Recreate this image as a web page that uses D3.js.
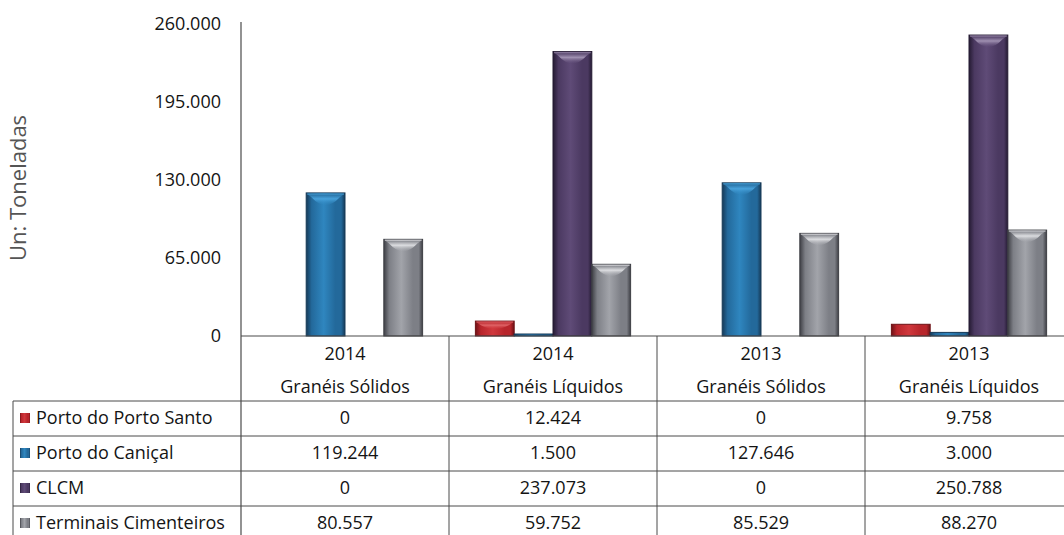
<!DOCTYPE html>
<html>
<head>
<meta charset="utf-8">
<script src="https://cdn.jsdelivr.net/npm/d3@7"></script>
<style>
  html, body { margin: 0; padding: 0; background: #fff; }
  svg { display: block; font-family: "Open Sans", sans-serif; }
</style>
</head>
<body>
<svg id="chart" width="1064" height="535"></svg>
<script>
// Movimento de granéis por terminal (toneladas)
const years = ["2014", "2014", "2013", "2013"];
const cargoTypes = ["Granéis Sólidos", "Granéis Líquidos", "Granéis Sólidos", "Granéis Líquidos"];
const seriesNames = ["Porto do Porto Santo", "Porto do Caniçal", "CLCM", "Terminais Cimenteiros"];
const portoSanto = [0, 12424, 0, 9758];
const canical = [119244, 1500, 127646, 3000];
const clcm = [0, 237073, 0, 250788];
const cimenteiros = [80557, 59752, 85529, 88270];
const yTicks = [0, 65000, 130000, 195000, 260000];

const seriesValues = [portoSanto, canical, clcm, cimenteiros];
const categoryIds = years.map((y, i) => i);

// Bevel palette per series: edge, body, highlight, cap
const palette = [
  { edge: "#6e1216", body: "#b8252b", light: "#d0383d", cap: "#e2686b" },
  { edge: "#163a58", body: "#23699b", light: "#2f86bf", cap: "#4aa6e0" },
  { edge: "#251b33", body: "#4b3961", light: "#5f4b77", cap: "#a798b8" },
  { edge: "#3e3f45", body: "#7d7f86", light: "#a2a4aa", cap: "#e4e5e8" }
];

const ptFormat = d3.formatLocale({ decimal: ",", thousands: ".", grouping: [3], currency: ["", " €"] }).format(",d");

const svg = d3.select("#chart");
const W = 1064, H = 535;
const plotLeft = 241, plotRight = 1073;
const baseY = 336, topY = 24;
const textColor = "#141414";
const fontSize = 18;

const x0 = d3.scaleBand().domain(categoryIds).range([plotLeft, plotRight]).padding(0);
const x1 = d3.scaleBand().domain(d3.range(seriesNames.length))
  .range([0, x0.bandwidth()]).paddingInner(0).paddingOuter(0.68);
const y = d3.scaleLinear().domain([0, 260000]).range([baseY, topY]);

// Gradients
const defs = svg.append("defs");
palette.forEach((p, i) => {
  const g = defs.append("linearGradient").attr("id", "body" + i)
    .attr("x1", "0%").attr("x2", "100%").attr("y1", "0%").attr("y2", "0%");
  [[0, p.edge], [0.14, p.body], [0.45, p.light], [0.75, p.body], [0.9, p.body], [1, p.edge]]
    .forEach(([o, c]) => g.append("stop").attr("offset", o).attr("stop-color", c));
  const c = defs.append("linearGradient").attr("id", "cap" + i)
    .attr("x1", "0%").attr("x2", "0%").attr("y1", "0%").attr("y2", "100%");
  c.append("stop").attr("offset", 0).attr("stop-color", p.body);
  c.append("stop").attr("offset", 0.45).attr("stop-color", p.cap);
  c.append("stop").attr("offset", 1).attr("stop-color", p.light).attr("stop-opacity", 0.2);
});

// Y axis title
svg.append("text")
  .attr("transform", `translate(26,188) rotate(-90)`)
  .attr("text-anchor", "middle")
  .attr("font-size", 22)
  .attr("fill", "#555")
  .text("Un: Toneladas");

// Y axis
const yAxis = d3.axisLeft(y).tickValues(yTicks).tickFormat(ptFormat).tickSize(0).tickPadding(20);
const ya = svg.append("g").attr("transform", `translate(${plotLeft},0)`).call(yAxis);
ya.select(".domain").remove();
ya.selectAll("text").attr("font-size", fontSize).attr("fill", textColor)
  .attr("font-family", "'Open Sans', sans-serif");

// Bars
const groups = svg.append("g").selectAll("g")
  .data(categoryIds).join("g")
  .attr("transform", d => `translate(${x0(d)},0)`);

groups.each(function (ci) {
  const g = d3.select(this);
  seriesValues.forEach((vals, si) => {
    const v = vals[ci];
    if (v <= 0) return;
    const bx = x1(si), bw = x1.bandwidth();
    const by = y(v), bh = baseY - by;
    const h = Math.max(bh, 2);
    const top = baseY - h;
    g.append("rect")
      .attr("x", bx).attr("y", top).attr("width", bw).attr("height", h)
      .attr("fill", `url(#body${si})`)
      .attr("stroke", palette[si].edge).attr("stroke-width", 1);
    if (h > 14) {
      const d = Math.min(14, h * 0.4);
      const inset = 5;
      const path = `M${bx + 1},${top + 1} L${bx + bw - 1},${top + 1} L${bx + bw - inset},${top + 4}
        Q${bx + bw / 2},${top + d + 6} ${bx + inset},${top + 4} Z`;
      g.append("path").attr("d", path).attr("fill", `url(#cap${si})`).attr("opacity", 0.9);
      // bright rim along the top edge
      g.append("line")
        .attr("x1", bx + 1).attr("x2", bx + bw - 1)
        .attr("y1", top + 1).attr("y2", top + 1)
        .attr("stroke", palette[si].cap).attr("stroke-opacity", 0.6).attr("stroke-width", 1.5);
    }
  });
});

// Data table
const tableLeft = 13;
const headerBottom = 401;
const rowH = 35;
const lineColor = "#4a4a4a";
const table = svg.append("g");

// Horizontal lines
table.append("line").attr("x1", plotLeft).attr("x2", W).attr("y1", baseY).attr("y2", baseY)
  .attr("stroke", lineColor).attr("stroke-width", 1.2);
for (let r = 0; r <= seriesNames.length; r++) {
  const yy = headerBottom + r * rowH;
  table.append("line").attr("x1", tableLeft).attr("x2", W).attr("y1", yy).attr("y2", yy)
    .attr("stroke", lineColor).attr("stroke-width", 1);
}
// Vertical lines
table.append("line").attr("x1", plotLeft).attr("x2", plotLeft).attr("y1", 22).attr("y2", H)
  .attr("stroke", lineColor).attr("stroke-width", 1.2);
table.append("line").attr("x1", tableLeft).attr("x2", tableLeft).attr("y1", headerBottom).attr("y2", H)
  .attr("stroke", lineColor).attr("stroke-width", 1);
categoryIds.forEach(ci => {
  const xx = x0(ci) + x0.bandwidth();
  table.append("line").attr("x1", xx).attr("x2", xx).attr("y1", baseY).attr("y2", H)
    .attr("stroke", lineColor).attr("stroke-width", 1);
});

// Header text
categoryIds.forEach(ci => {
  const cx = x0(ci) + x0.bandwidth() / 2;
  table.append("text").attr("x", cx).attr("y", 354).attr("dy", "0.35em")
    .attr("text-anchor", "middle").attr("font-size", fontSize).attr("fill", textColor).text(years[ci]);
  table.append("text").attr("x", cx).attr("y", 387).attr("dy", "0.35em")
    .attr("text-anchor", "middle").attr("font-size", fontSize).attr("fill", textColor).text(cargoTypes[ci]);
});

// Rows: legend key + values
seriesNames.forEach((name, si) => {
  const cy = headerBottom + si * rowH + rowH / 2 - 0.5;
  table.append("rect").attr("x", 20).attr("y", cy - 5).attr("width", 10).attr("height", 10)
    .attr("fill", `url(#body${si})`);
  table.append("text").attr("x", 36).attr("y", cy).attr("dy", "0.35em")
    .attr("font-size", fontSize).attr("fill", textColor).text(name);
  categoryIds.forEach(ci => {
    const cx = x0(ci) + x0.bandwidth() / 2;
    table.append("text").attr("x", cx).attr("y", cy).attr("dy", "0.35em")
      .attr("text-anchor", "middle").attr("font-size", fontSize).attr("fill", textColor)
      .text(ptFormat(seriesValues[si][ci]));
  });
});
</script>
</body>
</html>
